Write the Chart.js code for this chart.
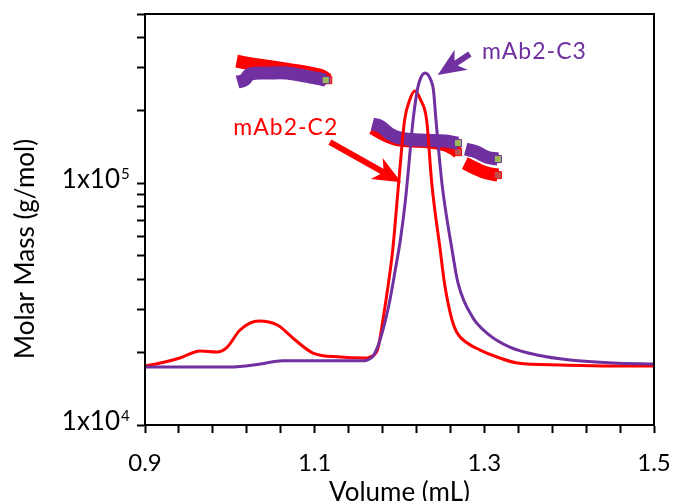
<!DOCTYPE html>
<html>
<head>
<meta charset="utf-8">
<script src="https://cdn.jsdelivr.net/npm/chart.js@4.4.1/dist/chart.umd.min.js"></script>
<style>
  html, body { margin: 0; padding: 0; background: #fff; }
</style>
</head>
<body>
<canvas id="massChart" width="674" height="501"></canvas>
<script>
// elution traces (mL vs. signal placed on the molar mass axis)
const c2Volume = [0.900, 0.918, 0.941, 0.965, 0.985, 0.997, 1.012, 1.034, 1.056, 1.077, 1.098, 1.130, 1.159, 1.165, 1.174, 1.181, 1.187, 1.192, 1.199, 1.206, 1.212, 1.218, 1.225, 1.232, 1.238, 1.248, 1.253, 1.261, 1.268, 1.280, 1.295, 1.315, 1.339, 1.389, 1.448, 1.500];
const c2Trace = [17530, 18040, 18920, 20220, 20030, 21000, 24700, 26910, 25900, 22450, 19840, 19100, 18920, 19100, 20410, 27950, 38630, 52860, 100000, 182100, 220300, 240000, 220300, 182100, 100000, 52860, 38630, 27950, 24000, 21820, 20410, 19100, 18040, 17700, 17530, 17530];
const c3Volume = [0.900, 0.960, 1.000, 1.036, 1.062, 1.098, 1.130, 1.155, 1.162, 1.169, 1.177, 1.187, 1.195, 1.201, 1.207, 1.211, 1.216, 1.221, 1.224, 1.230, 1.237, 1.240, 1.243, 1.250, 1.262, 1.269, 1.286, 1.303, 1.330, 1.362, 1.401, 1.452, 1.500];
const c3Trace = [17360, 17360, 17360, 17870, 18420, 18420, 18420, 18420, 18560, 19280, 22450, 30730, 43700, 58140, 85050, 118700, 182100, 242300, 266500, 284900, 266500, 242300, 182100, 100000, 52860, 38630, 27950, 24000, 21000, 19470, 18560, 18040, 17870];

// molar mass across each peak slice (g/mol)
const c2Band1Vol = [1.008, 1.027, 1.067, 1.106, 1.116];
const c2Band1Mass = [319200, 310200, 295900, 279500, 266500];
const c2Band2Vol = [1.168, 1.183, 1.201, 1.236, 1.254, 1.262, 1.269];
const c2Band2Mass = [168800, 157900, 150600, 147700, 143600, 139500, 134300];
const c2Band3Vol = [1.277, 1.291, 1.303, 1.316];
const c2Band3Mass = [120900, 114300, 110000, 107900];
const c3Band1Vol = [1.009, 1.017, 1.024, 1.047, 1.067, 1.095, 1.113];
const c3Band1Mass = [261500, 266500, 282100, 284900, 284900, 274200, 266500];
const c3Band2Vol = [1.168, 1.177, 1.189, 1.201, 1.224, 1.254, 1.269];
const c3Band2Mass = [175300, 172000, 159400, 153500, 150600, 149200, 146300];
const c3Band3Vol = [1.278, 1.291, 1.303, 1.316];
const c3Band3Mass = [138200, 134300, 128100, 125700];

// axis ticks
const xTickVals = [0.90, 0.94, 0.98, 1.02, 1.06, 1.10, 1.14, 1.18, 1.22, 1.26, 1.30, 1.34, 1.38, 1.42, 1.46, 1.50];
const xLabelVals = [0.9, 1.1, 1.3, 1.5];
const yTickVals = [1e4, 2e4, 3e4, 4e4, 5e4, 6e4, 7e4, 8e4, 9e4, 1e5, 2e5, 3e5, 4e5, 5e5];
const yLabelVals = [1e4, 1e5];
const yLabelExp = [4, 5];

// sample labels and their arrows (volume, molar mass)
const sampleNames = ['mAb2-C2', 'mAb2-C3'];
const nameVol = [1.066, 1.359];
const nameMass = [157900, 325400];
const arrowFromVol = [1.118, 1.283];
const arrowFromMass = [147700, 341400];
const arrowToVol = [1.202, 1.245];
const arrowToMass = [100900, 279500];

const RED = '#ff0000';
const PURPLE = '#7030a0';
const FONT = 'Lato';

function pts(xs, ys) {
    return xs.map((v, i) => ({ x: v, y: ys[i] }));
}

function trace(data, color, order) {
    return {
        data: data,
        borderColor: color,
        borderWidth: 3,
        pointRadius: 0,
        cubicInterpolationMode: 'monotone',
        order: order
    };
}

// thick band of mass points, last point marked with a small square
function band(data, color, markColor, order) {
    return {
        data: data,
        borderColor: color,
        borderWidth: 13,
        borderCapStyle: 'butt',
        tension: 0.4,
        pointStyle: 'rect',
        pointRadius: ctx => ctx.dataIndex === data.length - 1 ? 5 : 0,
        pointBackgroundColor: markColor,
        pointBorderColor: color,
        pointBorderWidth: 1,
        order: order
    };
}

function drawArrow(ctx, x0, y0, x1, y1, color) {
    const dx = x1 - x0, dy = y1 - y0, len = Math.hypot(dx, dy);
    const ux = dx / len, uy = dy / len, nx = -uy, ny = ux;
    const head = 28, half = 12, notch = 20;
    ctx.strokeStyle = color;
    ctx.lineWidth = 6;
    ctx.lineCap = 'butt';
    ctx.beginPath();
    ctx.moveTo(x0, y0);
    ctx.lineTo(x1 - ux * notch, y1 - uy * notch);
    ctx.stroke();
    ctx.fillStyle = color;
    ctx.beginPath();
    ctx.moveTo(x1, y1);
    ctx.lineTo(x1 - ux * head + nx * half, y1 - uy * head + ny * half);
    ctx.lineTo(x1 - ux * notch, y1 - uy * notch);
    ctx.lineTo(x1 - ux * head - nx * half, y1 - uy * head - ny * half);
    ctx.closePath();
    ctx.fill();
}

const decorations = {
    id: 'decorations',
    afterDatasetsDraw(chart) {
        const { ctx, chartArea: a, scales: { x, y } } = chart;
        ctx.save();
        // frame
        ctx.strokeStyle = '#000';
        ctx.lineWidth = 2;
        ctx.strokeRect(a.left, a.top, a.right - a.left, a.bottom - a.top);

        // sample names and arrows
        const colors = [RED, PURPLE];
        sampleNames.forEach((name, i) => {
            drawArrow(ctx,
                x.getPixelForValue(arrowFromVol[i]), y.getPixelForValue(arrowFromMass[i]),
                x.getPixelForValue(arrowToVol[i]), y.getPixelForValue(arrowToMass[i]),
                colors[i]);
            ctx.fillStyle = colors[i];
            ctx.font = '23px ' + FONT;
            ctx.letterSpacing = '1px';
            ctx.textAlign = 'center';
            ctx.textBaseline = 'alphabetic';
            ctx.fillText(name, x.getPixelForValue(nameVol[i]), y.getPixelForValue(nameMass[i]));
        });
        ctx.restore();
    },
    afterDraw(chart) {
        const { ctx, chartArea: a, scales: { y } } = chart;
        ctx.save();
        ctx.fillStyle = '#000';
        ctx.textBaseline = 'alphabetic';

        // 1x10^n labels
        yLabelVals.forEach((v, i) => {
            const py = y.getPixelForValue(v);
            ctx.font = '26px ' + FONT;
            ctx.textAlign = 'right';
            ctx.fillText('1x10', a.left - 25, py + 5);
            ctx.font = '15px ' + FONT;
            ctx.textAlign = 'left';
            ctx.fillText(String(yLabelExp[i]), a.left - 24, py - 4);
        });

        // axis titles
        ctx.font = '26px ' + FONT;
        ctx.textAlign = 'center';
        ctx.fillText('Volume (mL)', (a.left + a.right) / 2, 501);
        ctx.translate(34, 249);
        ctx.rotate(-Math.PI / 2);
        ctx.fillText('Molar Mass (g/mol)', 0, 0);
        ctx.restore();
    }
};

function build() {
    new Chart(document.getElementById('massChart'), {
        type: 'line',
        data: {
            datasets: [
                trace(pts(c3Volume, c3Trace), PURPLE, 1),
                trace(pts(c2Volume, c2Trace), RED, 2),
                band(pts(c3Band1Vol, c3Band1Mass), PURPLE, '#9bbb59', 3),
                band(pts(c3Band2Vol, c3Band2Mass), PURPLE, '#9bbb59', 3),
                band(pts(c3Band3Vol, c3Band3Mass), PURPLE, '#9bbb59', 3),
                band(pts(c2Band1Vol, c2Band1Mass), RED, '#c0504d', 4),
                band(pts(c2Band2Vol, c2Band2Mass), RED, '#c0504d', 4),
                band(pts(c2Band3Vol, c2Band3Mass), RED, '#c0504d', 4)
            ]
        },
        options: {
            responsive: false,
            animation: false,
            layout: { padding: { top: 14, right: 20, left: 0, bottom: 0 } },
            plugins: {
                legend: { display: false },
                tooltip: { enabled: false }
            },
            scales: {
                x: {
                    type: 'linear',
                    min: 0.9,
                    max: 1.5,
                    afterBuildTicks: s => { s.ticks = xTickVals.map(v => ({ value: v })); },
                    afterFit: s => { s.height = 76; s.paddingLeft = 0; s.paddingRight = 0; },
                    ticks: {
                        autoSkip: false,
                        maxRotation: 0,
                        padding: 16,
                        color: '#000',
                        font: { family: FONT, size: 24 },
                        callback: v => xLabelVals.some(l => Math.abs(l - v) < 1e-6) ? v.toFixed(1) : ''
                    },
                    grid: { drawOnChartArea: false, tickLength: 8, tickWidth: 2, tickColor: '#000' },
                    border: { color: '#000', width: 2 }
                },
                y: {
                    type: 'logarithmic',
                    min: 1e4,
                    max: 5e5,
                    afterBuildTicks: s => { s.ticks = yTickVals.map(v => ({ value: v })); },
                    afterFit: s => { s.width = 145; s.paddingTop = 0; s.paddingBottom = 0; },
                    ticks: { callback: () => '' },
                    grid: { drawOnChartArea: false, tickLength: 8, tickWidth: 2, tickColor: '#000' },
                    border: { color: '#000', width: 2 }
                }
            }
        },
        plugins: [decorations]
    });
}

document.fonts.load('24px ' + FONT).then(build, build);
</script>
</body>
</html>
